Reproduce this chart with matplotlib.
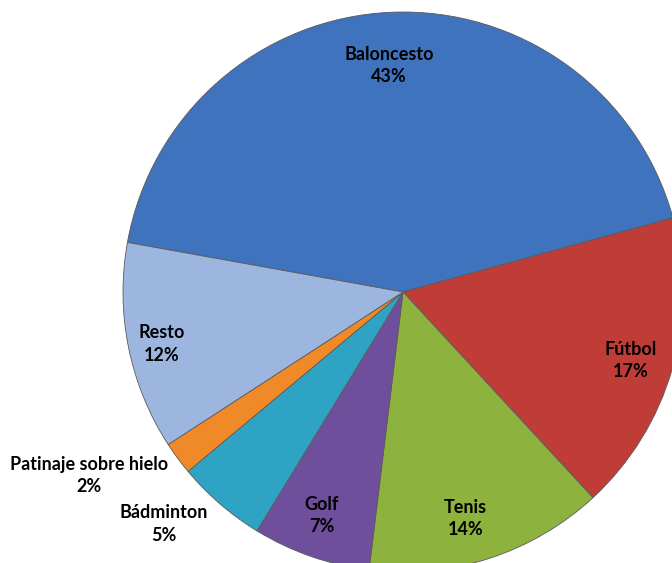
import numpy as np
import matplotlib
matplotlib.use("Agg")
import matplotlib.pyplot as plt

# data (order as in the sheet, drawn clockwise)
deportes = ["Baloncesto", "Fútbol", "Tenis", "Golf", "Bádminton",
            "Patinaje sobre hielo", "Resto"]
porcentajes = [42.9, 17.4, 13.8, 6.8, 5.2, 1.9, 12.0]
colores = ["#3f73bd", "#bf3c37", "#8db23e", "#6f4f9c", "#2fa3c3",
           "#f08a28", "#9db6df"]

# label placement: (radius factor, angle offset in degrees) per slice
lbl_r = [0.81, 0.85, 0.84, 0.85, 1.19, 1.30, 0.88]
lbl_da = [1, -0.7, -2.5, -0.8, -5.1, -6.1, 0.8]

W, H = 672, 563
cx, cy, R = 403, H - 292, 280

fig = plt.figure(figsize=(W / 100, H / 100), dpi=100)
ax = fig.add_axes([0, 0, 1, 1])

wedges, _ = ax.pie(porcentajes, colors=colores, startangle=169.8,
                   counterclock=False, center=(cx, cy), radius=R,
                   wedgeprops=dict(edgecolor="#5a5a5a", linewidth=0.6),
                   frame=True)
ax.set_xlim(0, W)
ax.set_ylim(0, H)
ax.set_aspect("equal")
ax.axis("off")

total = sum(porcentajes)
for w, nombre, p, rf, da in zip(wedges, deportes, porcentajes, lbl_r, lbl_da):
    ang = np.deg2rad((w.theta1 + w.theta2) / 2 + da)
    x = cx + R * rf * np.cos(ang)
    y = cy + R * rf * np.sin(ang)
    ax.text(x, y, f"{nombre}\n{round(100 * p / total)}%", ha="center",
            va="center", fontsize=13, fontweight="bold", family="Lato",
            linespacing=1.38, color="black")

fig.savefig("out.png", dpi=100)
